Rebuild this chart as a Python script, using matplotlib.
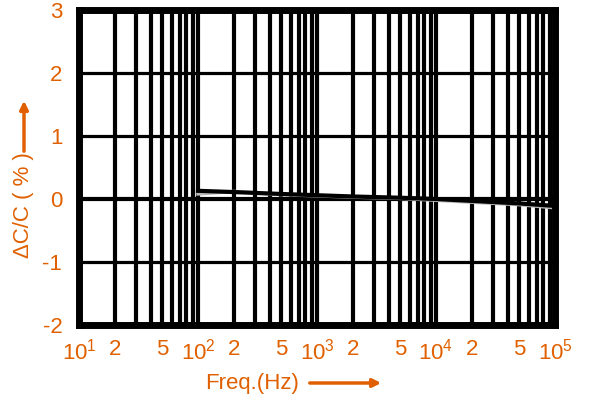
import matplotlib
matplotlib.use("Agg")
import matplotlib.pyplot as plt
import numpy as np

freq = [100, 200, 500, 1000, 2000, 5000, 10000, 20000, 50000, 100000]
dc_black = [0.13, 0.11, 0.08, 0.06, 0.04, 0.02, 0.0, -0.03, -0.07, -0.11]
dc_gray = [0.08, 0.12, 0.07, 0.05, 0.03, 0.01, -0.02, -0.05, -0.09, -0.14]

x_ticks = [10, 20, 50, 100, 200, 500, 1000, 2000, 5000, 10000, 20000, 50000, 100000]
x_labels = [r"$\mathregular{10^1}$", "2", "5", r"$\mathregular{10^2}$", "2", "5",
            r"$\mathregular{10^3}$", "2", "5", r"$\mathregular{10^4}$", "2", "5",
            r"$\mathregular{10^5}$"]
y_ticks = [-2, -1, 0, 1, 2, 3]
y_labels = ["-2", "-1", "0", "1", "2", "3"]

orange = "#E06000"
plt.rcParams['font.family'] = ['Liberation Sans', 'DejaVu Sans']

fig = plt.figure(figsize=(5.9, 4.0), dpi=100)
ax = fig.add_axes([79/590, 1-325/400, (555-79)/590, (325-10)/400])
ax.set_xscale('log')
ax.set_xlim(10, 1e5)
ax.set_ylim(-2, 3)

# vertical grid
for d in [10, 100, 1000, 10000]:
    for m in range(1, 10):
        v = d * m
        if 10 < v < 1e5:
            ax.axvline(v, color='black', lw=3.0, zorder=1)
for yv in [-1, 1, 2]:
    ax.axhline(yv, color='black', lw=2.3, zorder=1)
ax.axhline(0, color='black', lw=3.0, zorder=1)

ax.plot(freq, dc_gray, color='#b8b8b8', lw=2.5, zorder=2)
ax.plot(freq, dc_black, color='black', lw=3.0, zorder=3)

for s in ax.spines.values():
    s.set_linewidth(5)
    s.set_color('black')

ax.set_xticks(x_ticks)
ax.set_xticklabels(x_labels)
ax.xaxis.set_minor_locator(matplotlib.ticker.NullLocator())
ax.set_yticks(y_ticks)
ax.set_yticklabels(y_labels)
ax.tick_params(length=0, labelsize=16, labelcolor=orange)
ax.tick_params(axis='x', pad=10)
ax.tick_params(axis='y', pad=12)

fig.text(205/590, 1-383/400, "Freq.(Hz)", color=orange, fontsize=16,
         ha='left', va='center')
ax.annotate("", xy=(384/590, 1-383/400), xytext=(307/590, 1-383/400),
            xycoords='figure fraction', textcoords='figure fraction',
            arrowprops=dict(arrowstyle='-|>', color=orange, lw=2.5,
                            mutation_scale=12))

fig.text(24/590, 1-205/400, "ΔC/C ( % )", color=orange, fontsize=16,
         rotation=90, ha='center', va='center')
ax.annotate("", xy=(24/590, 1-98/400), xytext=(24/590, 1-154/400),
            xycoords='figure fraction', textcoords='figure fraction',
            arrowprops=dict(arrowstyle='-|>', color=orange, lw=2.5,
                            mutation_scale=12))

fig.savefig("out.png", dpi=100)
